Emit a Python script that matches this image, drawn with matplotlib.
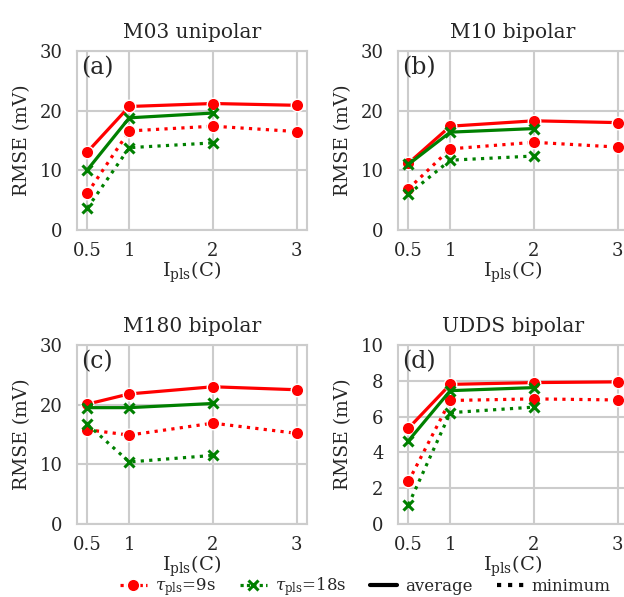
import numpy as np
import matplotlib
matplotlib.use('Agg')
import matplotlib.pyplot as plt
from matplotlib.lines import Line2D
import seaborn as sns

# pulse current (C-rate)
currents = [0.5, 1, 2, 3]
currents_18 = [0.5, 1, 2]

titles = ['M03 unipolar', 'M10 bipolar', 'M180 bipolar', 'UDDS bipolar']
panel_labels = ['(a)', '(b)', '(c)', '(d)']
ylims = [30, 30, 30, 10]

# RMSE (mV), tau_pls = 9s
avg_9 = [[13.1, 20.7, 21.2, 20.9],
         [11.2, 17.4, 18.3, 18.0],
         [20.1, 21.8, 23.0, 22.5],
         [5.35, 7.8, 7.9, 7.94]]
min_9 = [[6.2, 16.6, 17.4, 16.5],
         [6.9, 13.6, 14.7, 13.9],
         [15.8, 14.9, 16.9, 15.2],
         [2.38, 6.9, 6.99, 6.93]]
# RMSE (mV), tau_pls = 18s
avg_18 = [[10.1, 18.8, 19.6],
          [11.0, 16.4, 17.0],
          [19.5, 19.5, 20.2],
          [4.65, 7.45, 7.62]]
min_18 = [[3.7, 13.8, 14.6],
          [6.0, 11.7, 12.4],
          [16.7, 10.4, 11.5],
          [1.08, 6.22, 6.53]]

sns.set_style('whitegrid')
plt.rcParams['font.family'] = ['DejaVu Serif']
plt.rcParams['mathtext.fontset'] = 'dejavuserif'

red = '#ff0000'
green = '#008000'
lw = 2.3

fig = plt.figure(figsize=(6.24, 5.97), dpi=100)
W, H = 624., 597.
lefts = [77, 398, 77, 398]
tops = [51, 51, 345, 345]
aw, ah = 230, 179

for i in range(4):
    ax = fig.add_axes([lefts[i]/W, 1-(tops[i]+ah)/H, aw/W, ah/H])
    for y, ls in ((avg_9[i], '-'), (min_9[i], ':')):
        ax.plot(currents, y, color=red, ls=ls, lw=lw, marker='o', ms=9,
                mec='white', mew=1.0)
    for y, ls in ((avg_18[i], '-'), (min_18[i], ':')):
        ax.plot(currents_18, y, color=green, ls=ls, lw=lw, marker='x', ms=7,
                mew=2.2)
    ax.set_xlim(0.375, 3.125)
    ax.set_ylim(0, ylims[i])
    ax.set_xticks(currents)
    ax.set_xticklabels(['0.5', '1', '2', '3'])
    if ylims[i] == 10:
        ax.set_yticks([0, 2, 4, 6, 8, 10])
    else:
        ax.set_yticks([0, 10, 20, 30])
    ax.tick_params(labelsize=13, colors='.15')
    ax.tick_params(axis='y', pad=7)
    ax.tick_params(axis='x', pad=5)
    ax.set_title(titles[i], fontsize=14.5, color='.15', pad=9)
    ax.set_ylabel('RMSE (mV)', fontsize=13.5, color='.15', labelpad=6)
    ax.set_xlabel(r'$\mathrm{I_{pls}}$(C)', fontsize=14, color='.15', labelpad=0)
    ax.text(0.02, 0.97, panel_labels[i], transform=ax.transAxes,
            fontsize=17, va='top', ha='left', color='.15')
    for s in ax.spines.values():
        s.set_color('.8')
        s.set_linewidth(1.5)
    ax.grid(color='.8', lw=1.5)

handles = [
    Line2D([], [], color=red, ls=(0, (1, 1)), lw=lw, marker='o', ms=9, mec='white', mew=1.0),
    Line2D([], [], color=green, ls=(0, (1, 1)), lw=lw, marker='x', ms=7, mew=2.2),
    Line2D([], [], color='black', ls='-', lw=3),
    Line2D([], [], color='black', ls=':', lw=3),
]
labels = [r'$\tau_{\mathrm{pls}}$=9s', r'$\tau_{\mathrm{pls}}$=18s', 'average', 'minimum']
fig.legend(handles, labels, loc='center', bbox_to_anchor=(0.585, 0.017),
           ncol=4, frameon=False, fontsize=12, handlelength=1.62, columnspacing=1.44,
           handletextpad=0.48, labelcolor='.15', borderaxespad=0, borderpad=0)

fig.savefig('out.png', dpi=100)
